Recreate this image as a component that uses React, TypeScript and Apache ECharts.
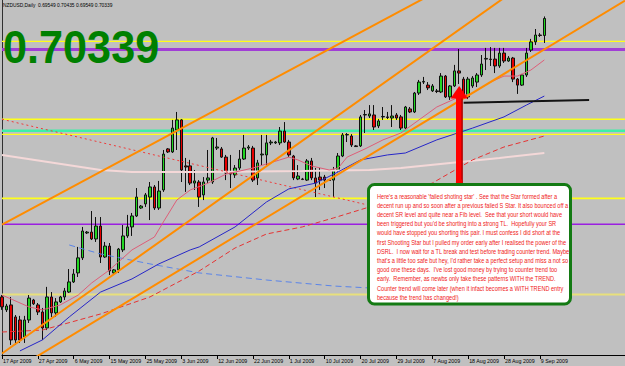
import React, { useEffect, useRef } from "react";
import * as echarts from "echarts";

const tickLabels = [
  "17 Apr 2009", "27 Apr 2009", "6 May 2009", "15 May 2009", "25 May 2009", "3 Jun 2009",
  "12 Jun 2009", "22 Jun 2009", "1 Jul 2009", "10 Jul 2009", "20 Jul 2009", "29 Jul 2009",
  "7 Aug 2009", "18 Aug 2009", "28 Aug 2009", "9 Sep 2009",
];

const slotCount = 140;
const categories = Array.from({ length: slotCount }, (_, i) => String(i));

const opens = [
  0.5738, 0.5678, 0.5701, 0.5645, 0.5631, 0.5552, 0.5631, 0.5724, 0.5701, 0.5668,
  0.5594, 0.5738, 0.5664, 0.5715, 0.5738, 0.5761, 0.5808, 0.5850, 0.5920, 0.6036,
  0.6040, 0.6008, 0.6068, 0.5924, 0.5975, 0.5850, 0.5864, 0.5957, 0.6022, 0.6064,
  0.6115, 0.6152, 0.6171, 0.6203, 0.6250, 0.6152, 0.6236, 0.6427, 0.6413, 0.6515,
  0.6562, 0.6348, 0.6348, 0.6268, 0.6273, 0.6213, 0.6282, 0.6273, 0.6431, 0.6427,
  0.6389, 0.6315, 0.6306, 0.6338, 0.6380, 0.6431, 0.6431, 0.6292, 0.6399, 0.6399,
  0.6455, 0.6455, 0.6455, 0.6510, 0.6459, 0.6394, 0.6287, 0.6287, 0.6282, 0.6371,
  0.6292, 0.6296, 0.6296, 0.6282, 0.6282, 0.6329, 0.6394, 0.6492, 0.6487, 0.6441,
  0.6441, 0.6585, 0.6580, 0.6585, 0.6534, 0.6576, 0.6576, 0.6571, 0.6585, 0.6576,
  0.6524, 0.6613, 0.6599, 0.6687, 0.6738, 0.6724, 0.6697, 0.6697, 0.6692, 0.6766,
  0.6669, 0.6720, 0.6790, 0.6752, 0.6669, 0.6720, 0.6738, 0.6771, 0.6845, 0.6845,
  0.6845, 0.6813, 0.6873, 0.6836, 0.6850, 0.6752, 0.6724, 0.6771, 0.6887, 0.6925,
  0.6957, 0.69549,
];
const closes = [
  0.5692, 0.5696, 0.5538, 0.5538, 0.5538, 0.5631, 0.5733, 0.5706, 0.5668, 0.5594,
  0.5738, 0.5664, 0.5715, 0.5738, 0.5766, 0.5808, 0.5845, 0.5920, 0.6045, 0.6040,
  0.6008, 0.6068, 0.5924, 0.5975, 0.5859, 0.5864, 0.5961, 0.6022, 0.6064, 0.6115,
  0.6203, 0.6161, 0.6213, 0.6250, 0.6152, 0.6231, 0.6403, 0.6413, 0.6524, 0.6562,
  0.6329, 0.6343, 0.6268, 0.6278, 0.6203, 0.6273, 0.6292, 0.6478, 0.6436, 0.6389,
  0.6315, 0.6310, 0.6338, 0.6380, 0.6431, 0.6436, 0.6282, 0.6362, 0.6403, 0.6455,
  0.6459, 0.6459, 0.6510, 0.6459, 0.6399, 0.6292, 0.6301, 0.6285, 0.6371, 0.6292,
  0.6268, 0.6282, 0.6282, 0.6280, 0.6329, 0.6394, 0.6492, 0.6494, 0.6445, 0.6438,
  0.6576, 0.6587, 0.6590, 0.6529, 0.6557, 0.6578, 0.6573, 0.6580, 0.6571, 0.6524,
  0.6622, 0.6599, 0.6687, 0.6738, 0.6741, 0.6711, 0.6720, 0.6694, 0.6766, 0.6669,
  0.6720, 0.6790, 0.6780, 0.6673, 0.6752, 0.6757, 0.6771, 0.6822, 0.6848, 0.6843,
  0.6813, 0.6873, 0.6836, 0.6850, 0.6752, 0.6724, 0.6771, 0.6873, 0.6925, 0.6957,
  0.6955, 0.70339,
];
const lows = [
  0.5678, 0.5668, 0.5515, 0.5515, 0.5524, 0.5524, 0.5617, 0.5701, 0.5654, 0.5538,
  0.5584, 0.5645, 0.5645, 0.5710, 0.5724, 0.5757, 0.5803, 0.5831, 0.5910, 0.6031,
  0.6003, 0.5994, 0.5896, 0.5920, 0.5840, 0.5845, 0.5850, 0.5947, 0.6013, 0.6022,
  0.6110, 0.6148, 0.6157, 0.6096, 0.6143, 0.6143, 0.6227, 0.6408, 0.6408, 0.6422,
  0.6273, 0.6227, 0.6259, 0.6236, 0.6157, 0.6189, 0.6268, 0.6264, 0.6422, 0.6385,
  0.6282, 0.6245, 0.6292, 0.6329, 0.6376, 0.6422, 0.6273, 0.6259, 0.6352, 0.6352,
  0.6445, 0.6450, 0.6445, 0.6455, 0.6389, 0.6282, 0.6282, 0.6282, 0.6278, 0.6282,
  0.6203, 0.6236, 0.6245, 0.6278, 0.6203, 0.6320, 0.6389, 0.6459, 0.6436, 0.6436,
  0.6436, 0.6501, 0.6571, 0.6515, 0.6524, 0.6562, 0.6566, 0.6529, 0.6562, 0.6515,
  0.6520, 0.6594, 0.6594, 0.6678, 0.6729, 0.6701, 0.6692, 0.6687, 0.6687, 0.6664,
  0.6655, 0.6715, 0.6729, 0.6664, 0.6659, 0.6711, 0.6715, 0.6762, 0.6794, 0.6813,
  0.6780, 0.6804, 0.6827, 0.6832, 0.6738, 0.6683, 0.6720, 0.6762, 0.6878, 0.6911,
  0.6948, 0.6920,
];
const highs = [
  0.5747, 0.5706, 0.5738, 0.5654, 0.5650, 0.5650, 0.5747, 0.5729, 0.5710, 0.5687,
  0.5785, 0.5761, 0.5733, 0.5743, 0.5780, 0.5868, 0.5868, 0.5971, 0.6064, 0.6045,
  0.6138, 0.6110, 0.6110, 0.5994, 0.5989, 0.5868, 0.5966, 0.6073, 0.6120, 0.6129,
  0.6245, 0.6166, 0.6222, 0.6273, 0.6259, 0.6278, 0.6422, 0.6431, 0.6562, 0.6599,
  0.6566, 0.6385, 0.6376, 0.6329, 0.6282, 0.6296, 0.6422, 0.6483, 0.6478, 0.6436,
  0.6399, 0.6399, 0.6352, 0.6422, 0.6492, 0.6445, 0.6441, 0.6376, 0.6492, 0.6492,
  0.6469, 0.6464, 0.6529, 0.6552, 0.6469, 0.6399, 0.6352, 0.6292, 0.6380, 0.6385,
  0.6338, 0.6338, 0.6306, 0.6287, 0.6343, 0.6408, 0.6501, 0.6501, 0.6496, 0.6445,
  0.6585, 0.6608, 0.6631, 0.6631, 0.6566, 0.6622, 0.6599, 0.6631, 0.6594, 0.6585,
  0.6627, 0.6622, 0.6692, 0.6748, 0.6762, 0.6738, 0.6729, 0.6706, 0.6780, 0.6771,
  0.6724, 0.6818, 0.6892, 0.6762, 0.6762, 0.6766, 0.6780, 0.6864, 0.6897, 0.6901,
  0.6897, 0.6897, 0.6897, 0.6859, 0.6855, 0.6757, 0.6776, 0.6897, 0.6939, 0.6985,
  0.6966, 0.70435,
];

// moving averages: [bar index, price]
const fastMA = [
  [0, 0.5747], [6, 0.5692], [9, 0.5678], [13, 0.5701], [17, 0.5747], [20, 0.5803],
  [24, 0.5864], [29, 0.5957], [34, 0.6017], [36, 0.6087], [39, 0.6189], [42, 0.6236],
  [46, 0.6268], [50, 0.631], [56, 0.6338], [62, 0.6376], [64, 0.6389], [66, 0.6376],
  [69, 0.6348], [73, 0.6329], [75, 0.6338], [77, 0.6389], [81, 0.6427], [85, 0.6469],
  [89, 0.6501], [97, 0.6622], [102, 0.6669], [105, 0.6687], [109, 0.6738], [112, 0.6766],
  [115, 0.6766], [118, 0.6794], [121, 0.6841],
];
const midMA = [
  [4, 0.5487], [9, 0.5538], [15, 0.5645], [22, 0.5761], [29, 0.5822], [35, 0.5892],
  [42, 0.5957], [44, 0.5971], [52, 0.6064], [59, 0.618], [64, 0.6241], [70, 0.6268],
  [75, 0.632], [80, 0.6376], [86, 0.6399], [90, 0.6408], [97, 0.6469], [105, 0.6524],
  [112, 0.6576], [117, 0.6631], [121, 0.6673],
];
const slowMA = [
  [0, 0.5575], [9, 0.5584], [22, 0.5659], [33, 0.5738], [44, 0.5859], [52, 0.5966],
  [59, 0.6031], [67, 0.6064], [74, 0.6106], [82, 0.6157], [96, 0.6268], [105, 0.6376],
  [112, 0.6436], [121, 0.6487],
];
const paleMA = [
  [0, 0.6399], [22, 0.6329], [29, 0.632], [44, 0.632], [67, 0.6324], [82, 0.6329],
  [89, 0.6338], [100, 0.6362], [111, 0.6385], [121, 0.6408],
];
const blueDashMA = [
  [15, 0.598], [22, 0.5938], [33, 0.5892], [44, 0.585], [59, 0.5817], [74, 0.5789],
  [82, 0.578], [89, 0.5775],
];

// drawn trend lines: [bar index, price]
const trendA = [[0, 0.6075], [100, 0.7193]];
const trendB = [[0, 0.5475], [120, 0.7248]];
const trendC = [[0, 0.5363], [139, 0.7117]];
const fallingDotted = [[0, 0.6565], [89, 0.613]];
const supportLine = [[103, 0.6642], [131, 0.6655]];

// horizontal levels
const levelValues = [0.6927, 0.689, 0.6565, 0.6512, 0.6495, 0.6197, 0.6077, 0.5749];
const levelColors = ["#ffff1a", "#a13ed6", "#ffff1a", "#3cf0a8", "#ffff1a", "#ffff1a", "#9a1fe0", "#e8e07c"];
const levelWidths = [1.3, 3, 1.3, 2.5, 1.3, 1.6, 1.5, 2];

const headerText = "NZDUSD,Daily  0.69549 0.70435 0.69549 0.70339";
const bigPrice = "0.70339";
const noteLines = [
  "Here's a reasonable 'failed shoting star' . See that the Star formed after a",
  "decent run up and so soon after a previous failed S Star. It also bounced off a",
  "decent SR level and quite near a Fib level.  See that your short would have",
  "been triggered but you'd be shorting into a strong TL.  Hopefully your SR",
  "would have stopped you shorting this pair. I must confess I did short at the",
  "first Shooting Star but I pulled my order early after I realised the power of the",
  "DSRL.  I now wait for a TL break and test before trading counter trend. Maybe",
  "that's a little too safe but hey, I'd rather take a perfect setup and miss a not so",
  "good one these days.  I've lost good money by trying to counter trend too",
  "early.  Remember, as newbs only take these patterns WITH the TREND.",
  "Counter trend will come later (when it infact becomes a WITH TREND entry",
  "because the trend has changed!)",
];

export default function App() {
  const ref = useRef<HTMLDivElement>(null);
  useEffect(() => {
    if (!ref.current) return;
    const chart = echarts.init(ref.current, undefined, { renderer: "svg" });
    const candles = opens.map((o, i) => [o, closes[i], lows[i], highs[i]]);
    const lineSeries = (data: number[][], color: string, width: number, type: any = "solid", z = 3) => ({
      type: "line",
      data,
      symbol: "none",
      silent: true,
      z,
      clip: true,
      lineStyle: { color, width, type },
    });
    const levelSeries = levelValues.map((v, i) =>
      lineSeries([[0, v], [slotCount - 1, v]], levelColors[i], levelWidths[i], "solid", 1)
    );
    chart.setOption({
      animation: false,
      backgroundColor: "#c0c0c0",
      grid: { left: 1, right: 0, top: 0, bottom: 11 },
      xAxis: {
        type: "category",
        data: categories,
        boundaryGap: false,
        axisLine: { show: true, lineStyle: { color: "#000", width: 1 } },
        axisTick: {
          show: true,
          length: 4,
          interval: (i: number) => i % 8 === 0 && i <= 120,
          lineStyle: { color: "#000" },
        },
        axisLabel: {
          interval: (i: number) => i % 8 === 0 && i <= 120,
          formatter: (_v: string, i: number) => tickLabels[i / 8] ?? "",
          align: "left",
          fontSize: 5.3,
          fontFamily: "'Liberation Sans', Arial, sans-serif",
          color: "#000",
          margin: 3,
          padding: [0, 0, 0, 1],
        },
        splitLine: { show: false },
      },
      yAxis: {
        type: "value",
        min: 0.5468,
        max: 0.712,
        axisLine: { show: true, lineStyle: { color: "#303030", width: 1 } },
        axisLabel: { show: false },
        axisTick: { show: false },
        splitLine: { show: false },
      },
      series: [
        ...levelSeries,
        {
          type: "candlestick",
          data: candles,
          barWidth: 3,
          z: 2,
          silent: true,
          itemStyle: {
            color: "#22d622",
            color0: "#e60000",
            borderColor: "#101010",
            borderColor0: "#101010",
            borderWidth: 1,
          },
        },
        lineSeries(paleMA, "#f4d8d8", 2),
        lineSeries(blueDashMA, "#5a84e8", 1, [6, 4]),
        lineSeries(slowMA, "#e63232", 1, [5, 3]),
        lineSeries(fallingDotted, "#f03a3a", 1, [2, 3]),
        lineSeries(midMA, "#2626c8", 1),
        lineSeries(fastMA, "#de5e78", 1),
        lineSeries(trendA, "#ff8c00", 2, "solid", 4),
        lineSeries(trendB, "#ff8c00", 2, "solid", 4),
        lineSeries(trendC, "#ff8c00", 2, "solid", 4),
        lineSeries(supportLine, "#141414", 2, "solid", 4),
      ],
      graphic: [
        {
          type: "text",
          x: 3,
          y: 5,
          scaleX: 0.87,
          z: 50,
          style: {
            text: headerText,
            fontSize: 5.6,
            fontFamily: "'Liberation Sans', sans-serif",
            fill: "#000",
            verticalAlign: "middle",
          },
        },
        {
          type: "text",
          x: 3,
          y: 47,
          scaleX: 0.92,
          z: 50,
          style: {
            text: bigPrice,
            fontSize: 47,
            fontWeight: "bold",
            fontFamily: "'Liberation Sans', Arial, sans-serif",
            fill: "#008000",
            verticalAlign: "middle",
          },
        },
        {
          type: "rect",
          z: 60,
          shape: { x: 456, y: 97, width: 6.5, height: 86 },
          style: { fill: "#ff0000" },
        },
        {
          type: "rect",
          z: 60,
          shape: { x: 461.5, y: 98, width: 1.2, height: 85 },
          style: { fill: "#a00000" },
        },
        {
          type: "polygon",
          z: 60,
          shape: { points: [[459.2, 86], [450.5, 98.5], [468, 98.5]] },
          style: { fill: "#ff0000" },
        },
        {
          type: "circle",
          z: 61,
          shape: { cx: 459.2, cy: 182, r: 3.4 },
          style: { fill: "#ff0000" },
        },
        {
          type: "rect",
          z: 70,
          shape: { x: 368.5, y: 184.5, width: 202, height: 119.5, r: 6 },
          style: { fill: "#ffffff", stroke: "#137a13", lineWidth: 3 },
        },
        {
          type: "text",
          x: 377,
          y: 191.4,
          scaleX: 0.745,
          z: 71,
          style: {
            text: noteLines.join("\n"),
            fontSize: 7.5,
            lineHeight: 9.17,
            fontFamily: "'Liberation Sans', sans-serif",
            fill: "#f01818",
            verticalAlign: "top",
          },
        },
      ],
    });
    return () => chart.dispose();
  }, []);
  return (
    <div
      ref={ref}
      style={{ position: "fixed", left: 0, top: 0, width: 625, height: 366, background: "#c0c0c0" }}
    />
  );
}
